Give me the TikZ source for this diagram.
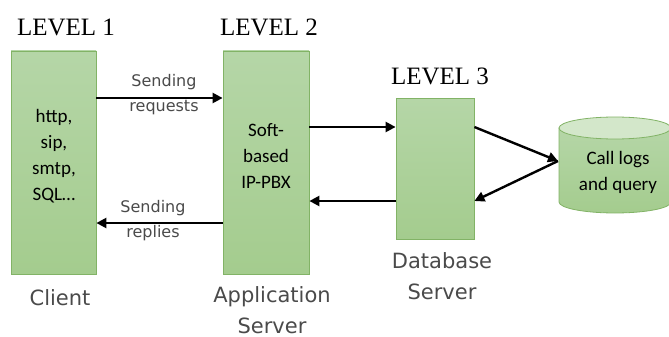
\documentclass[tikz,border=0pt]{standalone}
\usepackage{fontspec}
\setmainfont{Carlito}
\newfontfamily\levelfont{Liberation Serif}
\newfontfamily\handfont{DejaVu Sans}
\usetikzlibrary{arrows.meta}
\definecolor{boxtop}{HTML}{B5D6A7}
\definecolor{boxbot}{HTML}{A4CC8E}
\definecolor{boxline}{HTML}{82B366}
\definecolor{cyltop}{HTML}{D3E7CA}
\definecolor{handgray}{HTML}{4A4A4A}
\tikzset{
  tier/.style={draw=boxline, line width=0.8pt, top color=boxtop, bottom color=boxbot, inner sep=0pt},
  boxtext/.style={font=\fontsize{19}{26}\selectfont, align=center, text=black, inner sep=0pt},
  leveltext/.style={font=\levelfont\fontsize{25}{28}\selectfont, text=black, inner sep=0pt},
  handbig/.style={font=\handfont\fontsize{21}{31}\selectfont, text=handgray, align=center, inner sep=0pt},
  handsmall/.style={font=\handfont\fontsize{16}{25}\selectfont, text=handgray, align=center, inner sep=0pt},
  arr/.style={line width=2.4pt, -{Triangle[length=10pt,width=10pt]}}
}
\begin{document}
\begin{tikzpicture}[x=1pt,y=-1pt]
\useasboundingbox (0,0) rectangle (669,337);
% tiers
\node[tier, minimum width=85pt, minimum height=223pt] (client) at (53.5,162.5) {};
\node[tier, minimum width=86pt, minimum height=223pt] (app) at (266,162.5) {};
\node[tier, minimum width=78pt, minimum height=141pt] (db) at (435,168.5) {};
% cylinder
\path[draw=boxline, line width=0.8pt, top color=boxtop, bottom color=boxbot]
  (559,128) -- (559,202) arc[start angle=180, end angle=0, x radius=56, y radius=11]
  -- (671,128) -- cycle;
\draw[boxline, line width=0.8pt, fill=cyltop] (615,128) ellipse[x radius=56, y radius=11];
\coordinate (cylL) at (558,161);
% box texts
\node[boxtext] (clienttxt) at (54,156) {http,\\sip,\\smtp,\\SQL…};
\node[boxtext] (apptxt) at (266,156) {Soft-\\based\\IP-PBX};
\node[boxtext] (cyltxt) at (618,172.5) {Call logs\\and query};
% level titles
\node[leveltext] (l1) at (66,27) {LEVEL 1};
\node[leveltext] (l2) at (269,27) {LEVEL 2};
\node[leveltext] (l3) at (440,76) {LEVEL 3};
% arrows
\coordinate (yreq) at (0,98);
\coordinate (yrep) at (0,223);
\coordinate (ya) at (0,127);
\coordinate (yb) at (0,201);
\draw[arr] (client.east |- yreq) -- (app.west |- yreq);
\draw[arr] (app.west |- yrep) -- (client.east |- yrep);
\draw[arr] (app.east |- ya) -- (db.west |- ya);
\draw[arr] (db.west |- yb) -- (app.east |- yb);
\draw[arr] (db.east |- ya) -- (cylL);
\draw[arr] (cylL) -- (db.east |- yb);
% handwritten labels
\node[handsmall] (req) at (164,94.5) {Sending\\requests};
\node[handsmall] (rep) at (153,220.5) {Sending\\replies};
\node[handbig] (cl) at (60,298) {Client};
\node[handbig] (as) at (272,310) {Application\\Server};
\node[handbig] (ds) at (442,276.5) {Database\\Server};
\end{tikzpicture}
\end{document}
